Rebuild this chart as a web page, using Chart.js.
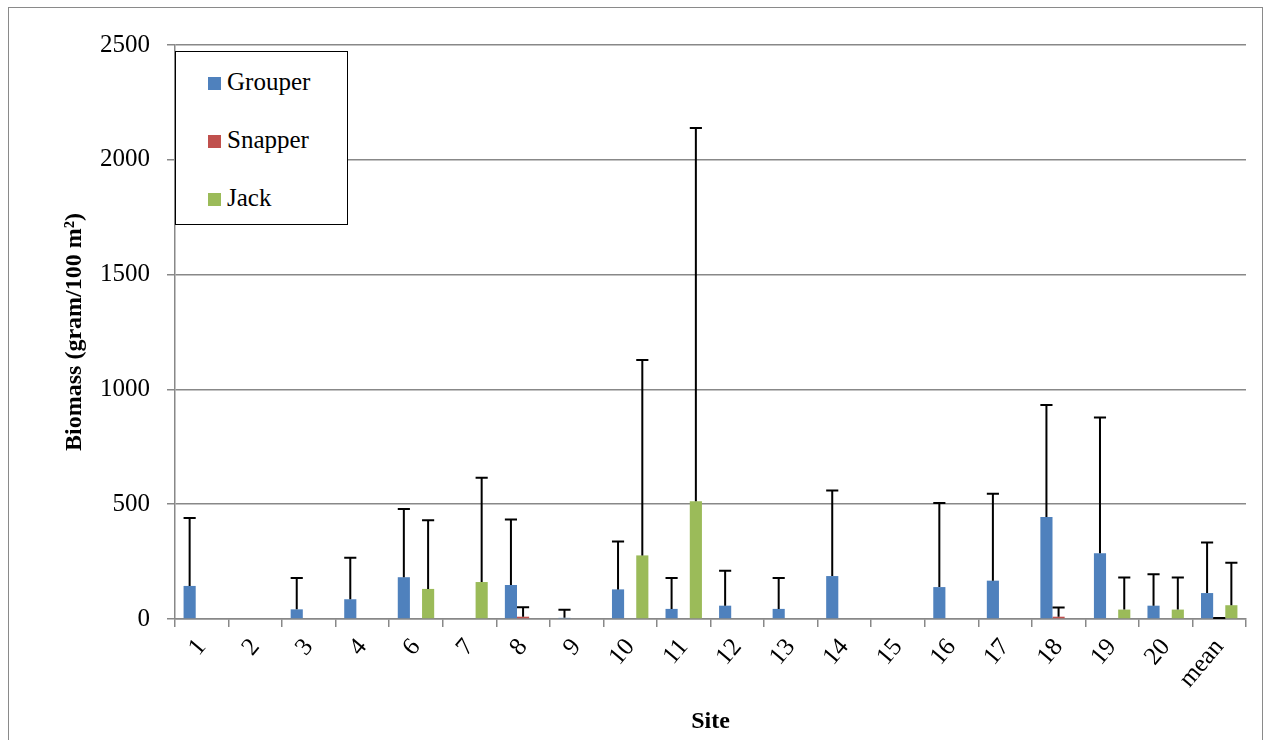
<!DOCTYPE html>
<html>
<head>
<meta charset="utf-8">
<script src="https://cdn.jsdelivr.net/npm/chart.js@4.4.1/dist/chart.umd.min.js"></script>
<style>
  body { margin: 0; background: #fff; }
  #wrap { position: relative; width: 1270px; height: 740px; }
  #frame { position: absolute; left: 8px; top: 7px; width: 1253px; height: 740px; border: 1.5px solid #8a8a8a; pointer-events: none; }
  #legend { position: absolute; left: 175px; top: 51px; width: 171px; height: 172px; border: 1.5px solid #000; background: #fff;
    font-family: "Liberation Serif", serif; font-size: 25px; }
  .item { position: absolute; left: 32px; height: 28px; line-height: 28px; }
  .item span.sw { display: inline-block; width: 13px; height: 13px; margin-right: 6px; vertical-align: 0px; }
</style>
</head>
<body>
<div id="wrap">
  <canvas id="chart" width="1270" height="740"></canvas>
  <div id="frame"></div>
  <div id="legend"></div>
</div>
<script>
const sites = ['1', '2', '3', '4', '6', '7', '8', '9', '10', '11', '12', '13', '14', '15', '16', '17', '18', '19', '20', 'mean'];
const grouper = [144, 0, 42, 86, 182, 0, 148, 5, 129, 44, 58, 44, 187, 0, 139, 167, 444, 286, 58, 113];
const grouperSd = [296, 0, 137, 181, 297, 0, 285, 35, 208, 135, 152, 135, 373, 0, 366, 379, 488, 592, 137, 220];
const snapper = [0, 0, 0, 0, 0, 0, 10, 0, 0, 0, 0, 0, 0, 0, 0, 0, 10, 0, 0, 1];
const snapperSd = [0, 0, 0, 0, 0, 0, 41, 0, 0, 0, 0, 0, 0, 0, 0, 0, 40, 0, 0, 3];
const jack = [0, 0, 0, 0, 131, 161, 0, 0, 277, 513, 0, 0, 0, 0, 0, 0, 0, 41, 41, 60];
const jackSd = [0, 0, 0, 0, 299, 454, 0, 0, 851, 1626, 0, 0, 0, 0, 0, 0, 0, 140, 140, 185];
const yTicks = [0, 500, 1000, 1500, 2000, 2500];

const colors = { Grouper: '#4f81bd', Snapper: '#c0504d', Jack: '#9bbb59' };

// error bars (upper only), positioned with the y scale
const errorBars = {
  id: 'errorBars',
  afterDatasetsDraw(chart) {
    const ctx = chart.ctx;
    const y = chart.scales.y;
    ctx.save();
    ctx.strokeStyle = '#000';
    ctx.lineWidth = 2;
    chart.data.datasets.forEach((ds, i) => {
      const meta = chart.getDatasetMeta(i);
      meta.data.forEach((bar, j) => {
        const v = ds.data[j], sd = ds.sd[j];
        if (!sd) return;
        const top = y.getPixelForValue(v + sd);
        const half = bar.width / 2;
        ctx.beginPath();
        ctx.moveTo(bar.x, bar.y);
        ctx.lineTo(bar.x, top);
        ctx.moveTo(bar.x - half, top);
        ctx.lineTo(bar.x + half, top);
        ctx.stroke();
      });
    });
    ctx.restore();
  }
};

new Chart(document.getElementById('chart'), {
  type: 'bar',
  data: {
    labels: sites,
    datasets: [
      { label: 'Grouper', data: grouper, sd: grouperSd, backgroundColor: colors.Grouper },
      { label: 'Snapper', data: snapper, sd: snapperSd, backgroundColor: colors.Snapper },
      { label: 'Jack', data: jack, sd: jackSd, backgroundColor: colors.Jack }
    ]
  },
  options: {
    responsive: false,
    animation: false,
    layout: { padding: { top: 45, right: 24, left: 0, bottom: 0 } },
    datasets: { bar: { barPercentage: 1, categoryPercentage: 0.68 } },
    plugins: { legend: { display: false }, tooltip: { enabled: false } },
    scales: {
      x: {
        afterFit: s => { s.height = 121; },
        grid: { drawOnChartArea: false, color: '#888', lineWidth: 1.5, tickLength: 8, offset: true },
        border: { color: '#888', width: 1.5 },
        ticks: { minRotation: 50, maxRotation: 50, color: '#000', padding: 6,
                 font: { family: 'Liberation Serif', size: 25 } },
        title: { display: true, text: 'Site', color: '#000', padding: { top: 4, bottom: 4 },
                 font: { family: 'Liberation Serif', size: 24, weight: 'bold' } }
      },
      y: {
        min: 0, max: 2500,
        afterFit: s => { s.width = 175; },
        afterBuildTicks: s => { s.ticks = yTicks.map(v => ({ value: v })); },
        grid: { color: '#888', lineWidth: 1.5, tickLength: 8 },
        border: { color: '#888', width: 1.5 },
        ticks: { color: '#000', padding: 17, font: { family: 'Liberation Serif', size: 25 },
                 callback: v => String(v) },
        title: { display: true, text: 'Biomass (gram/100 m²)', color: '#000', padding: { top: 60, bottom: 0 },
                 font: { family: 'Liberation Serif', size: 24, weight: 'bold' } }
      }
    }
  },
  plugins: [errorBars]
});

// legend box
const legend = document.getElementById('legend');
['Grouper', 'Snapper', 'Jack'].forEach((name, i) => {
  const d = document.createElement('div');
  d.className = 'item';
  d.style.top = (16 + i * 58) + 'px';
  d.innerHTML = '<span class="sw" style="background:' + colors[name] + '"></span>' + name;
  legend.appendChild(d);
});
</script>
</body>
</html>
